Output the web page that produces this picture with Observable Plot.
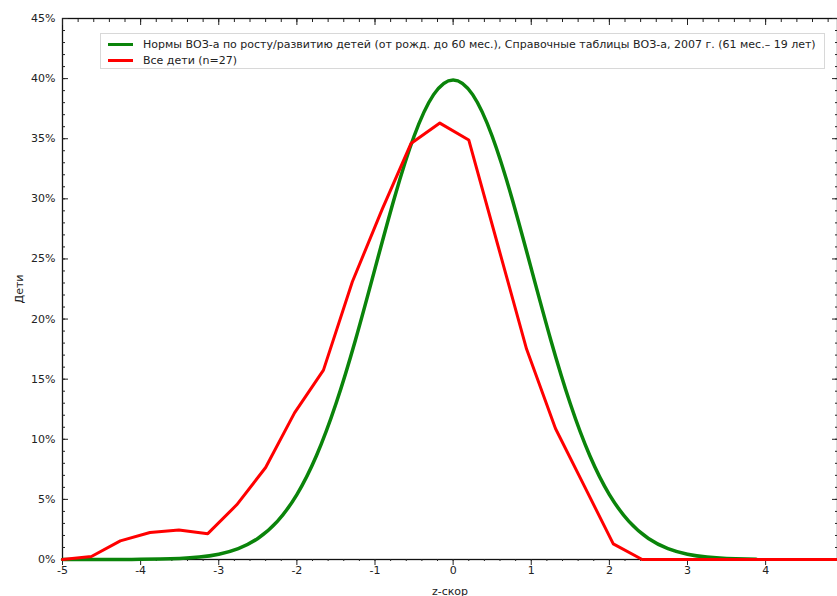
<!DOCTYPE html>
<html>
<head>
<meta charset="utf-8">
<script src="https://cdn.jsdelivr.net/npm/d3@7"></script>
<script src="https://cdn.jsdelivr.net/npm/@observablehq/plot@0.6"></script>
<style>
  html, body { margin: 0; padding: 0; background: #fff; }
  #wrap { position: relative; width: 837px; height: 596px; overflow: hidden; }
  #legend {
    position: absolute; left: 100px; top: 33px; width: 725px; height: 36px;
    border: 1px solid #d8d8d8; background: #fff; box-sizing: border-box;
    font-family: "DejaVu Sans", sans-serif; font-size: 11px; color: #222;
  }
  .item { position: absolute; left: 7px; height: 12px; display: flex; align-items: center; white-space: nowrap; }
  .sw { width: 25px; height: 3px; margin-right: 10px; }
</style>
</head>
<body>
<div id="wrap">
  <div id="chart"></div>
  <div id="legend"></div>
</div>
<script>
// Series names
const seriesNames = [
  "Нормы ВОЗ-а по росту/развитию детей (от рожд. до 60 мес.), Справочные таблицы ВОЗ-а, 2007 г. (61 мес.– 19 лет)",
  "Все дети (n=27)"
];
const seriesColors = ["#0a840a", "#ff0000"];

// WHO reference curve (z-score, % of children)
const whoZ = [-5, -4.75, -4.5, -4.25, -4, -3.75, -3.5, -3.25, -3, -2.75, -2.5, -2.25, -2, -1.75, -1.5, -1.25, -1, -0.75, -0.5, -0.25,
  0, 0.25, 0.5, 0.75, 1, 1.25, 1.5, 1.75, 2, 2.25, 2.5, 2.75, 3, 3.25, 3.5, 3.75, 3.88];
const whoPct = [0.0001, 0.0005, 0.0016, 0.005, 0.0134, 0.0353, 0.0873, 0.2029, 0.4432, 0.9094, 1.7528, 3.174, 5.3991, 8.6277, 12.9518, 18.2649, 24.1971, 30.1137, 35.2065, 38.6668,
  39.8942, 38.6668, 35.2065, 30.1137, 24.1971, 18.2649, 12.9518, 8.6277, 5.3991, 3.174, 1.7528, 0.9094, 0.4432, 0.2029, 0.0873, 0.0353, 0.022];

// All children (n=27)
const kidsZ = [-5, -4.63, -4.26, -3.88, -3.51, -3.14, -2.77, -2.40, -2.03, -1.66, -1.29, -0.91, -0.54, -0.17, 0.20, 0.57, 0.94, 1.31, 1.68, 2.05, 2.42, 4.92];
const kidsPct = [0, 0.25, 1.55, 2.25, 2.45, 2.15, 4.55, 7.65, 12.2, 15.75, 23.1, 29.1, 34.6, 36.3, 34.9, 26.2, 17.5, 10.9, 6.1, 1.3, 0, 0];

// Axis ticks
const xMajor = [-5, -4, -3, -2, -1, 0, 1, 2, 3, 4];
const xMinor = d3.range(-50, 50, 2).map(d => d / 10);
const yMajor = [0, 5, 10, 15, 20, 25, 30, 35, 40, 45];
const yMinor = d3.range(0, 46, 1);

const who = whoZ.map((z, i) => ({z, p: whoPct[i]}));
const kids = kidsZ.map((z, i) => ({z, p: kidsPct[i]}));

const noText = () => "";

const chart = Plot.plot({
  width: 837,
  height: 596,
  marginLeft: 62,
  marginTop: 18,
  marginRight: 0,
  marginBottom: 37,
  style: {fontFamily: "DejaVu Sans, sans-serif", fontSize: "11px", color: "#222", background: "#fff"},
  x: {domain: [-5, 4.92], label: null},
  y: {domain: [0, 45], label: null},
  marks: [
    Plot.frame({stroke: "#111", strokeWidth: 1.3}),
    Plot.axisX(xMinor, {anchor: "bottom", tickSize: 2, tickFormat: noText, label: null}),
    Plot.axisX(xMajor, {anchor: "bottom", tickSize: 6, tickPadding: 1, tickFormat: d => String(d), label: "z-скор", labelArrow: "none", labelAnchor: "center", labelOffset: 35}),
    Plot.axisX(xMinor, {anchor: "top", tickSize: -3, tickFormat: noText, label: null}),
    Plot.axisX(xMajor, {anchor: "top", tickSize: -6, tickFormat: noText, label: null}),
    Plot.axisY(yMinor, {anchor: "left", tickSize: -3, tickFormat: noText, label: null}),
    Plot.axisY(yMajor, {anchor: "left", tickSize: -6, tickPadding: 13, tickFormat: d => d + "%", label: "Дети", labelArrow: "none", labelAnchor: "center", labelOffset: 47}),
    Plot.axisY(yMinor, {anchor: "right", tickSize: -3, tickFormat: noText, label: null}),
    Plot.axisY(yMajor, {anchor: "right", tickSize: -6, tickFormat: noText, label: null}),
    Plot.line(who, {x: "z", y: "p", stroke: seriesColors[0], strokeWidth: 3.5, curve: "natural"}),
    Plot.line(kids, {x: "z", y: "p", stroke: seriesColors[1], strokeWidth: 3})
  ]
});
document.getElementById("chart").appendChild(chart);

const legend = document.getElementById("legend");
seriesNames.forEach((name, i) => {
  const item = document.createElement("div");
  item.className = "item";
  item.style.top = (4 + i * 16) + "px";
  const sw = document.createElement("span");
  sw.className = "sw";
  sw.style.background = seriesColors[i];
  const t = document.createElement("span");
  t.textContent = name;
  item.appendChild(sw);
  item.appendChild(t);
  legend.appendChild(item);
});
</script>
</body>
</html>
